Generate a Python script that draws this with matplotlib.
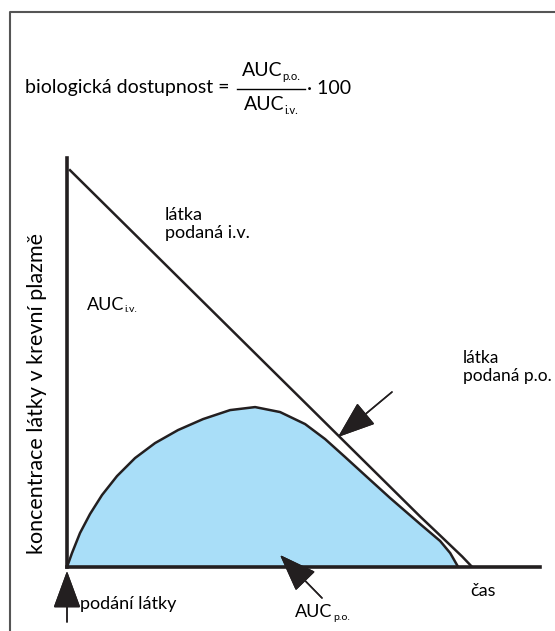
"""
Bioavailability diagram: plasma concentration after i.v. and p.o. dosing.
"""

import matplotlib.pyplot as plt
from matplotlib.lines import Line2D

plt.rcParams['font.family'] = ['Lato', 'DejaVu Sans']

W, H = 555, 631

# i.v. curve (time, concentration)
iv_time = [0.076, 1.091, 2.107, 3.122, 4.137, 5.152, 6.168, 7.183, 8.198, 8.959,
           9.467, 9.772, 10.025, 10.279]
iv_conc = [10.672, 9.608, 8.543, 7.478, 6.414, 5.349, 4.285, 3.22, 2.156, 1.358,
           0.847, 0.538, 0.282, 0.0]

# p.o. curve (time, concentration)
po_time = [0, 0.127, 0.33, 0.584, 0.888, 1.269, 1.726, 2.234, 2.817, 3.452, 4.137,
           4.772, 5.406, 6.041, 6.548, 7.056, 7.64, 8.198, 8.959, 9.467, 9.721, 9.924]
po_conc = [0, 0.376, 0.914, 1.425, 1.935, 2.446, 2.93, 3.333, 3.683, 3.978, 4.22,
           4.301, 4.167, 3.844, 3.441, 2.957, 2.392, 1.855, 1.156, 0.699, 0.376, 0.0]

fill_color = '#a9def8'
ink = '#231f20'
fs = 13


def px(x, y):
    """Pixel position (from top-left) to figure fraction."""
    return x / W, 1 - y / H


fig = plt.figure(figsize=(W / 100, H / 100), dpi=100)
renderer = fig.canvas.get_renderer()


def auc(x, y, sub, size=fs, ha='left'):
    """'AUC' with a small subscript; x, y in pixels (ha left or center)."""
    main = fig.text(*px(x, y), 'AUC', fontsize=size, va='center', ha='left')
    small = fig.text(*px(x, y + 5), sub, fontsize=size * 0.58, va='center', ha='left')
    w_main = main.get_window_extent(renderer).width + 0.5
    w_sub = small.get_window_extent(renderer).width
    x0 = x - (w_main + w_sub) / 2 if ha == 'center' else x
    main.set_position(px(x0, y))
    small.set_position(px(x0 + w_main, y + 5))


# outer frame (left and top edge only)
fx0, fy0 = px(9.5, 12)
fig.add_artist(Line2D([fx0, fx0, 1], [0, fy0, fy0], color='#555555', lw=1.5,
                      transform=fig.transFigure))

# plot area
l, b = px(67, 567)
r, t = px(540, 158)
ax = fig.add_axes([l, b, r - l, t - b])
ax.set_xlim(0, 12)
ax.set_ylim(0, 11)
for side in ['top', 'right']:
    ax.spines[side].set_visible(False)
for side in ['left', 'bottom']:
    ax.spines[side].set_linewidth(2.6)
    ax.spines[side].set_color(ink)
ax.set_xticks([])
ax.set_yticks([])
ax.patch.set_alpha(0)

ax.fill_between(po_time, po_conc, color=fill_color, lw=0, zorder=1)
ax.plot(po_time, po_conc, color=ink, lw=1.8, zorder=2, solid_joinstyle='round')
ax.plot(iv_time, iv_conc, color=ink, lw=1.8, zorder=2, solid_joinstyle='round')

# formula
fig.text(*px(25, 88), 'biologická dostupnost =', fontsize=14, va='center', ha='left')
auc(271, 71, 'p.o.', size=14, ha='center')
auc(271, 105, 'i.v.', size=14, ha='center')
xa, ya = px(237, 89)
xb, _ = px(305, 89)
fig.add_artist(Line2D([xa, xb], [ya, ya], color='black', lw=1.0, transform=fig.transFigure))
fig.text(*px(307, 88), '· 100', fontsize=14, va='center', ha='left')

# labels
fig.text(*px(37, 393), 'koncentrace látky v krevní plazmě', fontsize=15.5,
         rotation=90, va='center', ha='center')
fig.text(*px(165, 224), 'látka\npodaná i.v.', fontsize=fs, va='center', ha='left',
         linespacing=1.15)
auc(87, 305, 'i.v.')
fig.text(*px(463, 367), 'látka\npodaná p.o.', fontsize=12.5, va='center', ha='left',
         linespacing=1.15)
fig.text(*px(470, 591), 'čas', fontsize=fs, va='center', ha='left')
fig.text(*px(80, 604), 'podání látky', fontsize=fs, va='center', ha='left')
auc(295, 612, 'p.o.')

# arrows
arrow = dict(arrowstyle='-|>,head_length=1.5,head_width=0.55', color=ink,
             lw=1.1, mutation_scale=16, shrinkA=0, shrinkB=0)
fig.add_artist(plt.annotate('', xy=px(338, 437), xytext=px(392, 392),
                            xycoords='figure fraction', textcoords='figure fraction',
                            arrowprops=arrow))
fig.add_artist(plt.annotate('', xy=px(67, 571), xytext=px(67, 622),
                            xycoords='figure fraction', textcoords='figure fraction',
                            arrowprops=arrow))
fig.add_artist(plt.annotate('', xy=px(280, 555), xytext=px(322, 598),
                            xycoords='figure fraction', textcoords='figure fraction',
                            arrowprops=arrow))

fig.savefig('out.png', dpi=100)
